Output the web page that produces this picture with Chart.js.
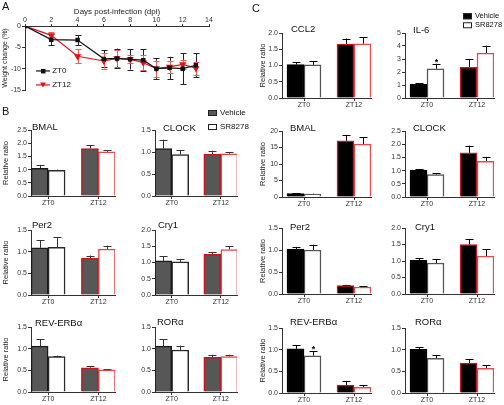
<!DOCTYPE html>
<html>
<head>
<meta charset="utf-8">
<script src="https://cdn.jsdelivr.net/npm/chart.js@4.4.1/dist/chart.umd.min.js"></script>
<style>
  body { margin: 0; width: 504px; height: 405px; position: relative; overflow: hidden; background: #fff;
         font-family: "Liberation Sans", Arial, sans-serif; }
  canvas { position: absolute; }
  .t { position: absolute; line-height: 1; white-space: nowrap; transform: translateY(-50%); color: #111; }
  .box { display: inline-block; width: 9px; height: 6px; box-sizing: border-box; border: 1px solid #222; margin-right: 3px; vertical-align: middle; }
</style>
</head>
<body>
<script>
// A: weight change (%) after infection
const days = [0, 2, 4, 6, 7, 8, 9, 10, 11, 12, 13];
const zt0Weight = [0, -3.2, -3.3, -7.7, -7.6, -7.8, -8.0, -10.0, -9.8, -10.0, -9.2];
const zt0Err    = [0, 1.3, 1.2, 2.0, 2.3, 2.4, 2.5, 2.4, 2.6, 3.6, 2.8];
const zt12Weight = [0, -2.2, -7.1, -8.2, -7.6, -7.8, -8.6, -10.0, -9.6, -9.0, -9.9];
const zt12Err    = [0, 0.8, 1.6, 1.8, 1.9, 0.9, 1.8, 1.9, 1.5, 1.1, 1.5];

// B / C: relative ratio, values are [ZT0, ZT12]
const groups = ['ZT0', 'ZT12'];

const bBmalVeh = [1.05, 1.80], bBmalVehErr = [0.13, 0.12], bBmalSr = [0.97, 1.67], bBmalSrErr = [0.03, 0.06];
const bClockVeh = [1.08, 0.95], bClockVehErr = [0.20, 0.08], bClockSr = [0.94, 0.96], bClockSrErr = [0.10, 0.03];
const bPer2Veh = [1.09, 0.85], bPer2VehErr = [0.18, 0.06], bPer2Sr = [1.10, 1.06], bPer2SrErr = [0.24, 0.08];
const bCry1Veh = [1.05, 1.25], bCry1VehErr = [0.15, 0.07], bCry1Sr = [1.02, 1.40], bCry1SrErr = [0.09, 0.10];
const bRevVeh = [1.06, 0.56], bRevVehErr = [0.16, 0.04], bRevSr = [0.82, 0.51], bRevSrErr = [0.02, 0.02];
const bRorVeh = [1.06, 0.80], bRorVehErr = [0.16, 0.06], bRorSr = [0.97, 0.82], bRorSrErr = [0.10, 0.04];

const cCcl2Veh = [1.03, 1.66], cCcl2VehErr = [0.08, 0.17], cCcl2Sr = [1.02, 1.67], cCcl2SrErr = [0.11, 0.20];
const cIl6Veh = [1.05, 2.35], cIl6VehErr = [0.08, 0.62], cIl6Sr = [2.25, 3.45], cIl6SrErr = [0.38, 0.58];
const cBmalVeh = [1.0, 17.0], cBmalVehErr = [0.1, 1.8], cBmalSr = [0.9, 16.0], cBmalSrErr = [0.1, 2.1];
const cClockVeh = [1.02, 1.67], cClockVehErr = [0.04, 0.28], cClockSr = [0.85, 1.35], cClockSrErr = [0.06, 0.17];
const cPer2Veh = [1.02, 0.19], cPer2VehErr = [0.05, 0.02], cPer2Sr = [1.00, 0.16], cPer2SrErr = [0.12, 0.02];
const cCry1Veh = [1.02, 1.50], cCry1VehErr = [0.06, 0.16], cCry1Sr = [0.94, 1.15], cCry1SrErr = [0.11, 0.20];
const cRevVeh = [1.02, 0.18], cRevVehErr = [0.08, 0.10], cRevSr = [0.86, 0.13], cRevSrErr = [0.10, 0.05];
const cRorVeh = [1.01, 0.69], cRorVehErr = [0.04, 0.09], cRorSr = [0.80, 0.57], cRorSrErr = [0.07, 0.07];

const FONT = '"Liberation Sans", Arial, sans-serif';
Chart.defaults.font.family = FONT;

// error bars (up only for bars, both ways for the line chart) + significance stars
const errorBars = {
  id: 'errorBars',
  beforeDatasetsDraw(chart) {
    const ctx = chart.ctx, y = chart.scales.y;
    chart.data.datasets.forEach((ds, i) => {
      if (!ds.errors) return;
      const meta = chart.getDatasetMeta(i);
      ctx.save();
      ctx.strokeStyle = ds.errColor;
      ctx.lineWidth = 1;
      meta.data.forEach((el, j) => {
        const v = meta.controller.getParsed(j).y, e = ds.errors[j];
        if (!e) return;
        const x = Math.round(el.x) + 0.5;
        const top = y.getPixelForValue(v + e);
        const bot = ds.errBoth ? y.getPixelForValue(v - e) : el.y;
        const cap = ds.capW / 2;
        ctx.beginPath();
        ctx.moveTo(x, bot); ctx.lineTo(x, top);
        ctx.moveTo(x - cap, Math.round(top) + 0.5); ctx.lineTo(x + cap, Math.round(top) + 0.5);
        if (ds.errBoth) { ctx.moveTo(x - cap, Math.round(bot) + 0.5); ctx.lineTo(x + cap, Math.round(bot) + 0.5); }
        ctx.stroke();
        if (ds.stars && ds.stars[j]) {
          ctx.fillStyle = '#000';
          ctx.font = 'bold 9px ' + FONT;
          ctx.textAlign = 'center';
          ctx.textBaseline = 'bottom';
          ctx.fillText('*', x, top + 3);
        }
      });
      ctx.restore();
    });
  }
};

function addText(txt, x, y, size, extra) {
  const d = document.createElement('div');
  d.className = 't';
  d.style.left = x + 'px'; d.style.top = y + 'px'; d.style.fontSize = size + 'px';
  if (extra) Object.assign(d.style, extra);
  d.innerHTML = txt;
  document.body.appendChild(d);
  return d;
}

function makeCanvas(left, top, w, h) {
  const cv = document.createElement('canvas');
  cv.width = w; cv.height = h;
  cv.style.left = left + 'px'; cv.style.top = top + 'px';
  cv.style.width = w + 'px'; cv.style.height = h + 'px';
  document.body.appendChild(cv);
  return cv;
}

// ---------- Panel A ----------
(function () {
  const cv = makeCanvas(0, 0, 222, 96);
  const tickFont = { size: 7 };
  new Chart(cv, {
    type: 'line',
    data: {
      datasets: [
        { label: 'ZT0', data: days.map((d, i) => ({ x: d, y: zt0Weight[i] })), errors: zt0Err, errBoth: true, capW: 6,
          errColor: '#222', borderColor: '#111', backgroundColor: '#111', borderWidth: 1.2,
          pointStyle: 'rect', pointRadius: 2.3, tension: 0 },
        { label: 'ZT12', data: days.map((d, i) => ({ x: d, y: zt12Weight[i] })), errors: zt12Err, errBoth: true, capW: 6,
          errColor: '#ef5a5a', borderColor: '#e3121b', backgroundColor: '#e3121b', borderWidth: 1.2,
          pointStyle: 'triangle', pointRotation: 180, pointRadius: 3, tension: 0 }
      ]
    },
    options: {
      responsive: false, animation: false,
      layout: { padding: { top: 0, right: 13, bottom: 6, left: 0 } },
      plugins: { legend: { display: false }, tooltip: { enabled: false } },
      scales: {
        x: {
          type: 'linear', position: 'top', min: 0, max: 14,
          ticks: { stepSize: 2, font: tickFont, color: '#333', padding: 0, maxRotation: 0 },
          grid: { display: true, drawOnChartArea: false, tickLength: 2, color: '#333' },
          border: { color: '#333' },
          title: { display: true, text: 'Days post-infection (dpi)', font: { size: 8 }, color: '#222', padding: { top: 7, bottom: 0 } },
          afterFit: s => { s.height = 26; }
        },
        y: {
          min: -15, max: 0,
          ticks: { stepSize: 5, font: tickFont, color: '#333', padding: 1 },
          grid: { display: true, drawOnChartArea: false, tickLength: 3, color: '#333' },
          border: { color: '#333' },
          title: { display: true, text: 'Weight change (%)', font: { size: 7 }, color: '#222', padding: { top: 1, bottom: 0 } },
          afterFit: s => { s.width = 25; }
        }
      }
    },
    plugins: [errorBars]
  });
  addText('A', 2, 6, 11);
  addText('<svg width="14" height="8" style="vertical-align:middle"><line x1="0" y1="4" x2="14" y2="4" stroke="#111" stroke-width="1.2"/><rect x="5" y="2" width="4.5" height="4.5" fill="#111"/></svg> ZT0', 36, 71, 8);
  addText('<svg width="14" height="8" style="vertical-align:middle"><line x1="0" y1="4" x2="14" y2="4" stroke="#e3121b" stroke-width="1.2"/><polygon points="4,1.5 10,1.5 7,6.5" fill="#e3121b"/></svg> ZT12', 36, 85, 8);
})();

// ---------- Panels B and C ----------
const layout = {
  B: { cols: [{ x: 31, w: 84, yw: 31 }, { x: 155, w: 82, yw: 24 }],
       rows: [{ y: 130, h: 66 }, { y: 230, h: 65 }, { y: 327, h: 65 }],
       xmin: -0.34, xmax: 1.33,
       vehFill: '#575757', vehBorder: ['#1a1a1a', '#c8141c'], srBorder: ['#2a2a2a', '#e8474c'], err: '#333' },
  C: { cols: [{ x: 282, w: 89, yw: 25 }, { x: 405, w: 89, yw: 22 }],
       rows: [{ y: 33, h: 65 }, { y: 131, h: 66 }, { y: 228, h: 66 }, { y: 328, h: 65 }],
       xmin: -0.44, xmax: 1.34,
       vehFill: '#000', vehBorder: ['#000', '#c8141c'], srBorder: ['#555', '#e8474c'], err: '#000' }
};

const panels = [
  { fig: 'B', col: 0, row: 0, title: 'BMAL', tx: 32, ty: 127, ymax: 2.5, step: 0.5, veh: bBmalVeh, vehErr: bBmalVehErr, sr: bBmalSr, srErr: bBmalSrErr },
  { fig: 'B', col: 1, row: 0, title: 'CLOCK', tx: 163, ty: 128, ymax: 1.5, step: 0.5, veh: bClockVeh, vehErr: bClockVehErr, sr: bClockSr, srErr: bClockSrErr },
  { fig: 'B', col: 0, row: 1, title: 'Per2', tx: 32, ty: 225, ymax: 1.5, step: 0.5, veh: bPer2Veh, vehErr: bPer2VehErr, sr: bPer2Sr, srErr: bPer2SrErr },
  { fig: 'B', col: 1, row: 1, title: 'Cry1', tx: 158, ty: 225, ymax: 2.0, step: 0.5, veh: bCry1Veh, vehErr: bCry1VehErr, sr: bCry1Sr, srErr: bCry1SrErr },
  { fig: 'B', col: 0, row: 2, title: 'REV-ERBα', tx: 35, ty: 323, ymax: 1.5, step: 0.5, veh: bRevVeh, vehErr: bRevVehErr, sr: bRevSr, srErr: bRevSrErr },
  { fig: 'B', col: 1, row: 2, title: 'RORα', tx: 157, ty: 322, ymax: 1.5, step: 0.5, veh: bRorVeh, vehErr: bRorVehErr, sr: bRorSr, srErr: bRorSrErr },
  { fig: 'C', col: 0, row: 0, title: 'CCL2', tx: 291, ty: 29, ymax: 2.0, step: 0.5, veh: cCcl2Veh, vehErr: cCcl2VehErr, sr: cCcl2Sr, srErr: cCcl2SrErr },
  { fig: 'C', col: 1, row: 0, title: 'IL-6', tx: 413, ty: 30, ymax: 5, step: 1, veh: cIl6Veh, vehErr: cIl6VehErr, sr: cIl6Sr, srErr: cIl6SrErr, stars: [true, false] },
  { fig: 'C', col: 0, row: 1, title: 'BMAL', tx: 290, ty: 128, ymax: 20, step: 5, veh: cBmalVeh, vehErr: cBmalVehErr, sr: cBmalSr, srErr: cBmalSrErr },
  { fig: 'C', col: 1, row: 1, title: 'CLOCK', tx: 413, ty: 128, ymax: 2.5, step: 0.5, veh: cClockVeh, vehErr: cClockVehErr, sr: cClockSr, srErr: cClockSrErr },
  { fig: 'C', col: 0, row: 2, title: 'Per2', tx: 290, ty: 227, ymax: 1.5, step: 0.5, veh: cPer2Veh, vehErr: cPer2VehErr, sr: cPer2Sr, srErr: cPer2SrErr },
  { fig: 'C', col: 1, row: 2, title: 'Cry1', tx: 415, ty: 227, ymax: 2.0, step: 0.5, veh: cCry1Veh, vehErr: cCry1VehErr, sr: cCry1Sr, srErr: cCry1SrErr },
  { fig: 'C', col: 0, row: 3, title: 'REV-ERBα', tx: 290, ty: 322, ymax: 1.5, step: 0.5, veh: cRevVeh, vehErr: cRevVehErr, sr: cRevSr, srErr: cRevSrErr, stars: [true, false] },
  { fig: 'C', col: 1, row: 3, title: 'RORα', tx: 415, ty: 322, ymax: 1.5, step: 0.5, veh: cRorVeh, vehErr: cRorVehErr, sr: cRorSr, srErr: cRorSrErr }
];

function barPanel(p) {
  const L = layout[p.fig], c = L.cols[p.col], r = L.rows[p.row];
  const padTop = 8, xh = 14, padRight = 6;
  const cv = makeCanvas(c.x - c.yw, r.y - padTop, c.yw + c.w + padRight, padTop + r.h + xh);
  const tickFont = { size: 7 };
  const pts = arr => arr.map((v, i) => ({ x: i, y: v }));
  new Chart(cv, {
    type: 'bar',
    data: {
      datasets: [
        { label: 'Vehicle', data: pts(p.veh), errors: p.vehErr, errColor: L.err, capW: 8,
          backgroundColor: L.vehFill, borderColor: L.vehBorder, borderWidth: 1.5, barThickness: 17 },
        { label: 'SR8278', data: pts(p.sr), errors: p.srErr, errColor: L.err, capW: 8, stars: p.stars,
          backgroundColor: '#fff', borderColor: L.srBorder, borderWidth: 1.5, barThickness: 17 }
      ]
    },
    options: {
      responsive: false, animation: false,
      layout: { padding: { top: padTop, right: padRight, bottom: 0, left: 0 } },
      plugins: { legend: { display: false }, tooltip: { enabled: false } },
      scales: {
        x: {
          type: 'linear', offset: false, min: L.xmin, max: L.xmax,
          afterBuildTicks: s => { s.ticks = groups.map((g, i) => ({ value: i })); },
          ticks: { callback: v => groups[v], font: tickFont, color: '#333', padding: 0, autoSkip: false, maxRotation: 0 },
          grid: { display: true, offset: false, drawOnChartArea: false, tickLength: 3, color: '#333' },
          border: { color: '#333' },
          afterFit: s => { s.height = xh; }
        },
        y: {
          min: 0, max: p.ymax,
          ticks: { stepSize: p.step, font: tickFont, color: '#333', padding: 1,
                   callback: v => p.step < 1 ? v.toFixed(1) : String(v) },
          grid: { display: true, drawOnChartArea: false, tickLength: 3, color: '#333' },
          border: { color: '#333' },
          title: { display: p.col === 0, text: 'Relative ratio', font: { size: 7.5 }, color: '#222', padding: { top: 1, bottom: 0 } },
          afterFit: s => { s.width = c.yw; }
        }
      }
    },
    plugins: [errorBars]
  });
  addText(p.title, p.tx, p.ty, 9.5);
}

panels.forEach(barPanel);

// figure letters and legends
addText('B', 2, 111, 11);
addText('C', 252, 8, 11);
addText('<span class="box" style="background:#575757"></span>Vehicle', 208, 113, 8);
addText('<span class="box" style="background:#fff"></span>SR8278', 208, 127, 8);
addText('<span class="box" style="background:#000"></span>Vehicle', 463, 16, 7.5);
addText('<span class="box" style="background:#fff"></span>SR8278', 463, 25, 7.5);
</script>
</body>
</html>
